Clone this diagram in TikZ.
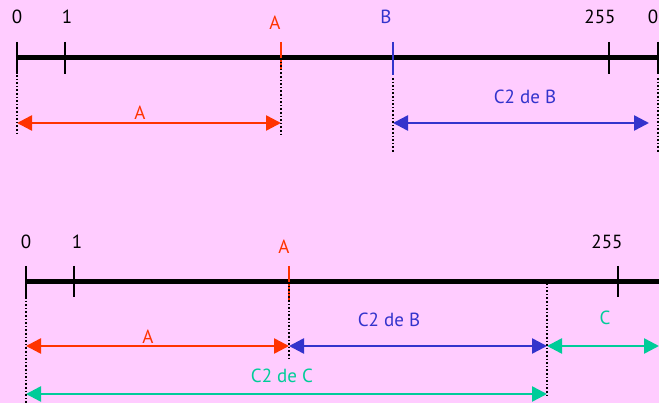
\documentclass[tikz,border=0pt]{standalone}
\usepackage{fontspec}
\setmainfont{PT Sans}
\usetikzlibrary{arrows.meta, positioning}
\definecolor{bgpink}{RGB}{255,204,255}
\definecolor{valred}{RGB}{255,51,0}
\definecolor{valblue}{RGB}{51,51,204}
\definecolor{valgreen}{RGB}{0,204,153}

\begin{document}
\begin{tikzpicture}[x=1pt, y=-1pt, font=\fontsize{19}{22}\selectfont,
  axis/.style={line width=5pt},
  tickmark/.style={line width=1.6pt},
  guide/.style={line width=1.6pt, dash pattern=on 1.6pt off 2pt},
  span/.style={line width=2.5pt, {Triangle[length=15pt,width=15pt]}-{Triangle[length=15pt,width=15pt]}}]
  \fill[bgpink] (0,0) rectangle (659,403);
  \clip (0,0) rectangle (659,403);

  % First number line: A and B
  \coordinate (a0) at (17,58);
  \coordinate (aend) at (680,58);
  \draw[axis] (a0) -- (aend);
  \foreach \x/\lab/\lx in {17/0/17, 65/1/67, 609/255/600, 658/0/653} {
    \draw[tickmark] (\x,42) -- (\x,74);
    \node (top\x) at (\lx,17) {\lab};
  }
  \coordinate (aA) at (281,58);
  \coordinate (aB) at (393,58);
  \draw[valred, line width=2pt] (281,42) -- (281,70);
  \node[valred] (topA) at (275,23) {A};
  \draw[valblue, line width=2pt] (393,42) -- (393,75);
  \node[valblue] (topB) at (386,17) {B};

  \coordinate (r1) at (17,123);
  \coordinate (r2) at (281,123);
  \coordinate (b1) at (393,123);
  \coordinate (b2) at (649,123);
  \draw[span, valred] (r1) -- (r2);
  \node[valred] (lblA) at (140,113) {A};
  \draw[span, valblue] (b1) -- (b2);
  \node[valblue] (lblB) at (525,97) {C2 de B};

  \draw[guide] (17,75) -- (17,136);
  \draw[guide] (aA) -- (281,137);
  \draw[guide] (393,78) -- (393,152);
  \draw[guide] (658,78) -- (658,152);

  % Second number line: A + C2(B) compared with C2(C)
  \coordinate (c0) at (26,282);
  \coordinate (cend) at (680,282);
  \draw[axis] (c0) -- (cend);
  \foreach \x/\lab/\lx in {26/0/26, 74/1/77, 618/255/607, 668/0/665} {
    \draw[tickmark] (\x,266) -- (\x,297);
    \node (bot\x) at (\lx,242) {\lab};
  }
  \draw[valred, line width=2pt] (289,266) -- (289,300);
  \node[valred] (botA) at (284,247) {A};

  \coordinate (s1) at (26,346);
  \coordinate (s2) at (289,346);
  \coordinate (s3) at (547,346);
  \coordinate (s4) at (659,346);
  \coordinate (g1) at (26,394);
  \coordinate (g2) at (547,394);
  \draw[span, valred] (s1) -- (s2);
  \node[valred] (lblA2) at (148,337) {A};
  \draw[span, valblue] (s2) -- (s3);
  \node[valblue] (lblB2) at (389,320) {C2 de B};
  \draw[span, valgreen] (s3) -- (s4);
  \node[valgreen] (lblC) at (605,318) {C};
  \draw[span, valgreen] (g1) -- (g2);
  \node[valgreen] (lblC2) at (282,376) {C2 de C};

  \draw[guide] (26,297) -- (26,403);
  \draw[guide] (289,282) -- (289,360);
  \draw[guide] (547,283) -- (547,395);
\end{tikzpicture}
\end{document}
